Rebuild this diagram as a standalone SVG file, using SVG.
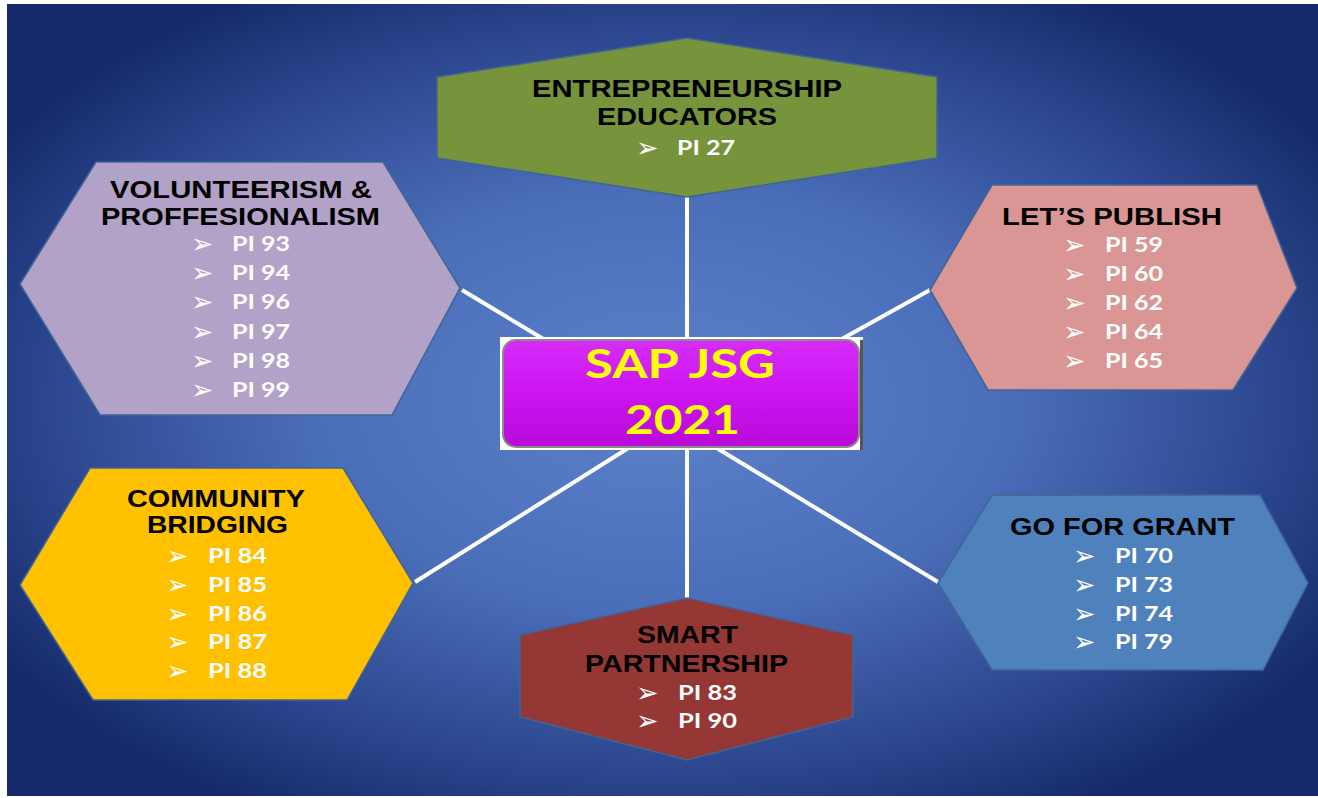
<svg xmlns="http://www.w3.org/2000/svg" width="1318" height="798" viewBox="0 0 1318 798">
<defs>
<radialGradient id="bg" cx="50%" cy="50%" r="60%" fx="50%" fy="50%">
<stop offset="0" stop-color="#5c82ca"/>
<stop offset="0.45" stop-color="#4a6db7"/>
<stop offset="0.8" stop-color="#2a448c"/>
<stop offset="1" stop-color="#152b69"/>
</radialGradient>
<linearGradient id="purp" x1="0" y1="0" x2="0" y2="1">
<stop offset="0" stop-color="#d62cf8"/>
<stop offset="0.5" stop-color="#cc14f2"/>
<stop offset="1" stop-color="#b80ad8"/>
</linearGradient>
<style>
.hex{stroke:#3f6596;stroke-width:1.5;stroke-linejoin:miter}
.ttl{font-family:"Liberation Sans",Arial,sans-serif;font-weight:700;font-size:23px;fill:#000;text-anchor:start}
.arw{font-family:"DejaVu Sans",sans-serif;font-size:27px;fill:#fff}
.pi{font-family:Lato,"Open Sans",sans-serif;font-weight:700;font-size:20px;fill:#fff}
.ctr{font-family:Lato,"Open Sans",sans-serif;font-weight:700;font-size:40px;fill:#ffff00}
.con{stroke:#fff;stroke-width:4;fill:none}
</style>
</defs>
<rect x="0" y="0" width="1318" height="798" fill="#fff"/>
<rect x="7" y="4" width="1311" height="792" fill="url(#bg)"/>

<g id="connectors">
<line class="con" x1="687" y1="197" x2="687" y2="340"/>
<line class="con" x1="687" y1="447" x2="687" y2="598"/>
<line class="con" x1="462" y1="290" x2="545" y2="340"/>
<line class="con" x1="930" y1="290" x2="840" y2="340"/>
<line class="con" x1="415" y1="582" x2="630" y2="447"/>
<line class="con" x1="938" y1="582" x2="715" y2="447"/>
</g>

<g id="center">
<rect x="500" y="337" width="363" height="113" fill="#fff"/>
<rect x="860" y="340" width="3" height="110" fill="#555"/>
<rect x="503" y="340" width="356" height="107" rx="13" fill="url(#purp)" stroke="#8a8a8a" stroke-width="2"/>
<text class="ctr" x="585" y="378" textLength="190" lengthAdjust="spacingAndGlyphs">SAP JSG</text>
<text class="ctr" x="625" y="434" textLength="115" lengthAdjust="spacingAndGlyphs">2021</text>
</g>

<g id="entrepreneurship">
<polygon class="hex" fill="#77933c" points="687,38 937,77 937,158 687,197 437,158 437,77"/>
<text class="ttl" x="532" y="97" textLength="310" lengthAdjust="spacingAndGlyphs">ENTREPRENEURSHIP</text>
<text class="ttl" x="597" y="125" textLength="180" lengthAdjust="spacingAndGlyphs">EDUCATORS</text>
<text class="arw" x="636" y="157">➢</text>
<text class="pi" x="677" y="155" textLength="58" lengthAdjust="spacingAndGlyphs">PI 27</text>
</g>

<g id="volunteerism">
<polygon class="hex" fill="#b3a2c7" points="96,162 383,162 460,288 392,415 100,415 20,284"/>
<text class="ttl" x="110" y="198" textLength="262" lengthAdjust="spacingAndGlyphs">VOLUNTEERISM &amp;</text>
<text class="ttl" x="101" y="225" textLength="279" lengthAdjust="spacingAndGlyphs">PROFFESIONALISM</text>
<text class="arw" x="191" y="253">➢</text><text class="pi" x="232" y="251" textLength="58" lengthAdjust="spacingAndGlyphs">PI 93</text>
<text class="arw" x="191" y="282">➢</text><text class="pi" x="232" y="280" textLength="58" lengthAdjust="spacingAndGlyphs">PI 94</text>
<text class="arw" x="191" y="311">➢</text><text class="pi" x="232" y="309" textLength="58" lengthAdjust="spacingAndGlyphs">PI 96</text>
<text class="arw" x="191" y="341">➢</text><text class="pi" x="232" y="339" textLength="58" lengthAdjust="spacingAndGlyphs">PI 97</text>
<text class="arw" x="191" y="370">➢</text><text class="pi" x="232" y="368" textLength="58" lengthAdjust="spacingAndGlyphs">PI 98</text>
<text class="arw" x="191" y="399">➢</text><text class="pi" x="232" y="397" textLength="58" lengthAdjust="spacingAndGlyphs">PI 99</text>
</g>

<g id="publish">
<polygon class="hex" fill="#d99694" points="992,185 1257,185 1297,288 1233,390 988,390 930,290"/>
<text class="ttl" x="1002" y="225" textLength="220" lengthAdjust="spacingAndGlyphs">LET’S PUBLISH</text>
<text class="arw" x="1063" y="254">➢</text><text class="pi" x="1105" y="252" textLength="58" lengthAdjust="spacingAndGlyphs">PI 59</text>
<text class="arw" x="1063" y="283">➢</text><text class="pi" x="1105" y="281" textLength="58" lengthAdjust="spacingAndGlyphs">PI 60</text>
<text class="arw" x="1063" y="312">➢</text><text class="pi" x="1105" y="310" textLength="58" lengthAdjust="spacingAndGlyphs">PI 62</text>
<text class="arw" x="1063" y="341">➢</text><text class="pi" x="1105" y="339" textLength="58" lengthAdjust="spacingAndGlyphs">PI 64</text>
<text class="arw" x="1063" y="370">➢</text><text class="pi" x="1105" y="368" textLength="58" lengthAdjust="spacingAndGlyphs">PI 65</text>
</g>

<g id="community">
<polygon class="hex" fill="#ffc000" points="90,468 343,468 413,583 347,700 93,700 20,585"/>
<text class="ttl" x="127" y="507" textLength="178" lengthAdjust="spacingAndGlyphs">COMMUNITY</text>
<text class="ttl" x="147" y="533" textLength="141" lengthAdjust="spacingAndGlyphs">BRIDGING</text>
<text class="arw" x="166" y="565">➢</text><text class="pi" x="208" y="563" textLength="59" lengthAdjust="spacingAndGlyphs">PI 84</text>
<text class="arw" x="166" y="594">➢</text><text class="pi" x="208" y="592" textLength="59" lengthAdjust="spacingAndGlyphs">PI 85</text>
<text class="arw" x="166" y="623">➢</text><text class="pi" x="208" y="621" textLength="59" lengthAdjust="spacingAndGlyphs">PI 86</text>
<text class="arw" x="166" y="651">➢</text><text class="pi" x="208" y="649" textLength="59" lengthAdjust="spacingAndGlyphs">PI 87</text>
<text class="arw" x="166" y="680">➢</text><text class="pi" x="208" y="678" textLength="59" lengthAdjust="spacingAndGlyphs">PI 88</text>
</g>

<g id="grant">
<polygon class="hex" fill="#4f81bd" points="992,495 1260,495 1308,583 1263,670 992,670 938,583"/>
<text class="ttl" x="1010" y="535" textLength="225" lengthAdjust="spacingAndGlyphs">GO FOR GRANT</text>
<text class="arw" x="1073" y="565">➢</text><text class="pi" x="1115" y="563" textLength="58" lengthAdjust="spacingAndGlyphs">PI 70</text>
<text class="arw" x="1073" y="594">➢</text><text class="pi" x="1115" y="592" textLength="58" lengthAdjust="spacingAndGlyphs">PI 73</text>
<text class="arw" x="1073" y="623">➢</text><text class="pi" x="1115" y="621" textLength="58" lengthAdjust="spacingAndGlyphs">PI 74</text>
<text class="arw" x="1073" y="651">➢</text><text class="pi" x="1115" y="649" textLength="58" lengthAdjust="spacingAndGlyphs">PI 79</text>
</g>

<g id="smart">
<polygon class="hex" fill="#953735" points="687,598 853,635 853,717 687,760 520,717 520,635"/>
<text class="ttl" x="637" y="643" textLength="101" lengthAdjust="spacingAndGlyphs">SMART</text>
<text class="ttl" x="585" y="672" textLength="203" lengthAdjust="spacingAndGlyphs">PARTNERSHIP</text>
<text class="arw" x="636" y="702">➢</text><text class="pi" x="678" y="700" textLength="59" lengthAdjust="spacingAndGlyphs">PI 83</text>
<text class="arw" x="636" y="730">➢</text><text class="pi" x="678" y="728" textLength="59" lengthAdjust="spacingAndGlyphs">PI 90</text>
</g>
</svg>
